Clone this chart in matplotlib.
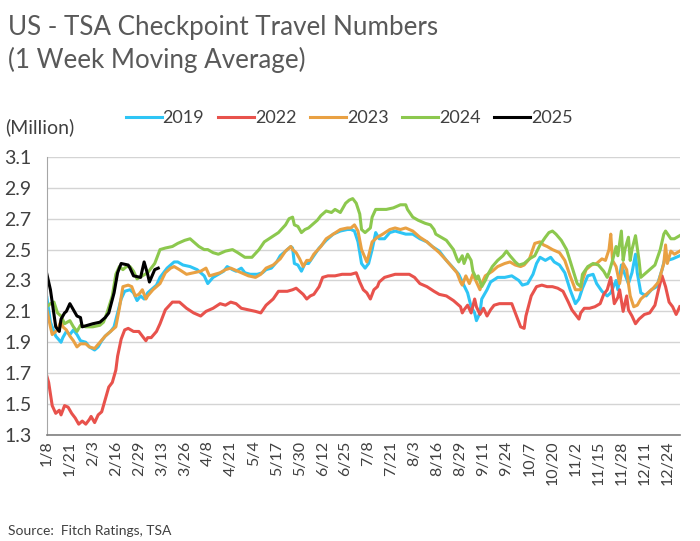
import matplotlib
matplotlib.use('Agg')
import matplotlib.pyplot as plt

plt.rcParams['font.family'] = ['Lato', 'DejaVu Sans']

# x positions are days counted from 1/8
tick_labels = ['1/8', '1/21', '2/3', '2/16', '2/29', '3/13', '3/26', '4/8', '4/21', '5/4',
               '5/17', '5/30', '6/12', '6/25', '7/8', '7/21', '8/3', '8/16', '8/29', '9/11',
               '9/24', '10/7', '10/20', '11/2', '11/15', '11/28', '12/11', '12/24']

days_2019 = [0, 2, 5, 8, 9, 11, 13, 15, 17, 19, 22, 24, 27, 29, 31, 33, 36, 38, 40, 42, 44, 47, 49,
             51, 53, 55, 57, 59, 62, 64, 68, 72, 74, 77, 81, 85, 89, 91, 94, 97, 100, 102, 105, 107,
             110, 112, 115, 119, 122, 124, 127, 130, 132, 135, 138, 139, 140, 142, 144, 146, 148,
             151, 154, 158, 162, 166, 170, 172, 174, 176, 178, 180, 182, 184, 186, 188, 191, 194,
             197, 200, 203, 207, 211, 215, 218, 222, 226, 230, 233, 235, 238, 240, 242, 243, 245,
             246, 249, 251, 255, 259, 263, 267, 269, 272, 275, 277, 279, 282, 285, 287, 290, 293,
             296, 299, 301, 303, 306, 309, 311, 314, 317, 319, 322, 323, 325, 327, 329, 331, 333,
             334, 336, 339, 342, 345, 348, 350, 351, 354, 358]
vals_2019 = [2.19, 2.03, 1.94, 1.90, 1.93, 1.97, 1.95, 1.98, 1.95, 1.91, 1.90, 1.87, 1.85, 1.87,
             1.91, 1.94, 1.97, 2.00, 2.09, 2.18, 2.23, 2.24, 2.22, 2.17, 2.20, 2.18, 2.22, 2.24,
             2.27, 2.32, 2.38, 2.42, 2.42, 2.40, 2.39, 2.37, 2.33, 2.28, 2.32, 2.34, 2.36, 2.39,
             2.37, 2.36, 2.38, 2.35, 2.34, 2.34, 2.35, 2.37, 2.38, 2.42, 2.46, 2.49, 2.52, 2.51,
             2.41, 2.40, 2.36, 2.41, 2.41, 2.46, 2.51, 2.56, 2.60, 2.62, 2.63, 2.63, 2.62, 2.55,
             2.41, 2.38, 2.41, 2.50, 2.61, 2.57, 2.57, 2.61, 2.62, 2.61, 2.60, 2.60, 2.57, 2.55,
             2.52, 2.49, 2.43, 2.38, 2.34, 2.29, 2.22, 2.13, 2.09, 2.04, 2.09, 2.18, 2.24, 2.29,
             2.32, 2.32, 2.33, 2.30, 2.27, 2.28, 2.34, 2.41, 2.45, 2.43, 2.45, 2.42, 2.40, 2.35,
             2.24, 2.15, 2.18, 2.25, 2.33, 2.34, 2.28, 2.23, 2.20, 2.22, 2.30, 2.24, 2.40, 2.34,
             2.28, 2.35, 2.47, 2.35, 2.22, 2.20, 2.24, 2.26, 2.37, 2.46, 2.43, 2.44, 2.46]

days_2022 = [0, 1, 3, 5, 7, 8, 10, 12, 14, 16, 18, 20, 22, 24, 25, 27, 29, 31, 33, 35, 37, 39, 40,
             42, 44, 46, 49, 52, 54, 56, 57, 59, 62, 64, 67, 71, 75, 79, 83, 87, 90, 94, 98, 101,
             104, 107, 110, 114, 118, 121, 124, 128, 131, 134, 136, 139, 141, 143, 145, 147, 149,
             151, 154, 156, 159, 163, 167, 170, 172, 175, 177, 179, 181, 183, 185, 187, 188, 191,
             194, 197, 201, 205, 208, 211, 215, 219, 222, 226, 230, 232, 234, 235, 236, 238, 240,
             242, 243, 245, 247, 249, 251, 253, 256, 260, 263, 265, 267, 268, 270, 271, 274, 277,
             280, 283, 286, 289, 292, 295, 297, 299, 301, 302, 304, 307, 310, 313, 315, 317, 319,
             321, 323, 324, 326, 328, 329, 331, 333, 335, 338, 341, 344, 346, 348, 350, 352, 354,
             356, 358]
vals_2022 = [1.68, 1.64, 1.49, 1.44, 1.46, 1.43, 1.49, 1.48, 1.44, 1.41, 1.37, 1.39, 1.37, 1.40,
             1.42, 1.38, 1.43, 1.45, 1.53, 1.61, 1.64, 1.72, 1.81, 1.92, 1.98, 1.99, 1.97, 1.97,
             1.94, 1.91, 1.93, 1.93, 1.97, 2.02, 2.11, 2.16, 2.16, 2.12, 2.09, 2.07, 2.10, 2.12,
             2.15, 2.14, 2.16, 2.15, 2.12, 2.11, 2.10, 2.09, 2.14, 2.18, 2.23, 2.23, 2.23, 2.24,
             2.25, 2.23, 2.21, 2.18, 2.20, 2.21, 2.26, 2.32, 2.33, 2.33, 2.34, 2.34, 2.34, 2.35,
             2.29, 2.24, 2.22, 2.18, 2.24, 2.26, 2.29, 2.32, 2.33, 2.34, 2.34, 2.34, 2.32, 2.28,
             2.26, 2.23, 2.21, 2.20, 2.17, 2.15, 2.13, 2.09, 2.11, 2.14, 2.09, 2.18, 2.13, 2.08,
             2.12, 2.07, 2.11, 2.14, 2.15, 2.15, 2.15, 2.09, 2.03, 2.00, 1.99, 2.07, 2.20, 2.26,
             2.27, 2.26, 2.26, 2.25, 2.23, 2.16, 2.11, 2.08, 2.05, 2.09, 2.12, 2.12, 2.13, 2.15,
             2.21, 2.24, 2.32, 2.15, 2.19, 2.24, 2.10, 2.20, 2.11, 2.07, 2.02, 2.05, 2.08, 2.09,
             2.14, 2.24, 2.33, 2.26, 2.16, 2.13, 2.08, 2.13]

days_2023 = [0, 2, 3, 6, 8, 9, 11, 13, 15, 17, 19, 22, 24, 27, 30, 33, 36, 39, 41, 43, 46, 48, 50,
             52, 54, 56, 57, 60, 64, 67, 70, 72, 75, 79, 83, 87, 90, 92, 95, 98, 101, 104, 106, 110,
             114, 118, 121, 124, 128, 132, 135, 138, 139, 141, 143, 145, 147, 149, 151, 155, 158,
             162, 166, 170, 172, 174, 176, 178, 181, 182, 184, 187, 190, 194, 197, 200, 203, 207,
             211, 215, 218, 222, 226, 229, 232, 234, 235, 237, 239, 241, 243, 245, 246, 248, 252,
             255, 259, 262, 265, 268, 270, 273, 276, 279, 281, 283, 286, 290, 293, 296, 299, 302,
             303, 305, 308, 311, 314, 316, 318, 319, 320, 322, 324, 326, 328, 329, 330, 332, 334,
             336, 339, 343, 346, 349, 350, 351, 353, 355, 358]
vals_2023 = [2.11, 2.00, 1.95, 1.98, 2.04, 2.00, 1.98, 1.94, 1.91, 1.87, 1.89, 1.89, 1.87, 1.86,
             1.90, 1.94, 1.97, 2.00, 2.12, 2.26, 2.27, 2.26, 2.20, 2.21, 2.24, 2.18, 2.20, 2.24,
             2.28, 2.35, 2.38, 2.39, 2.37, 2.34, 2.35, 2.36, 2.38, 2.33, 2.34, 2.35, 2.37, 2.38,
             2.37, 2.35, 2.33, 2.32, 2.34, 2.38, 2.40, 2.44, 2.49, 2.52, 2.50, 2.48, 2.44, 2.39,
             2.43, 2.43, 2.47, 2.52, 2.57, 2.60, 2.63, 2.64, 2.64, 2.66, 2.62, 2.50, 2.42, 2.46,
             2.55, 2.58, 2.60, 2.63, 2.64, 2.63, 2.64, 2.62, 2.58, 2.55, 2.52, 2.48, 2.43, 2.39,
             2.35, 2.29, 2.27, 2.33, 2.28, 2.34, 2.29, 2.24, 2.28, 2.33, 2.36, 2.39, 2.41, 2.42,
             2.40, 2.39, 2.40, 2.44, 2.54, 2.55, 2.53, 2.52, 2.50, 2.48, 2.43, 2.33, 2.24, 2.24,
             2.30, 2.37, 2.40, 2.41, 2.44, 2.43, 2.50, 2.60, 2.43, 2.39, 2.28, 2.41, 2.37, 2.28,
             2.20, 2.13, 2.14, 2.18, 2.21, 2.25, 2.29, 2.41, 2.53, 2.41, 2.49, 2.47, 2.49]

days_2024 = [0, 2, 4, 6, 8, 10, 13, 15, 17, 19, 22, 26, 30, 32, 34, 37, 39, 41, 43, 45, 47, 49, 51,
             54, 57, 61, 64, 67, 71, 74, 78, 81, 83, 86, 89, 91, 94, 97, 101, 105, 108, 112, 116,
             120, 123, 127, 131, 135, 137, 139, 140, 142, 144, 146, 148, 150, 153, 155, 158, 161,
             163, 166, 169, 171, 173, 175, 177, 178, 180, 182, 183, 184, 186, 188, 192, 196, 200,
             203, 204, 207, 210, 214, 217, 219, 220, 223, 226, 228, 230, 232, 233, 235, 236, 238,
             240, 241, 243, 244, 246, 248, 250, 252, 255, 258, 260, 262, 265, 267, 270, 273, 276,
             279, 282, 284, 286, 288, 291, 294, 297, 300, 302, 303, 306, 309, 312, 315, 317, 318,
             320, 322, 323, 325, 326, 327, 329, 330, 331, 333, 335, 336, 338, 341, 344, 347, 349,
             350, 353, 355, 358]
vals_2024 = [2.13, 2.15, 2.16, 2.09, 2.07, 2.02, 2.04, 2.00, 1.97, 2.01, 2.00, 2.00, 2.01, 2.03,
             2.09, 2.20, 2.34, 2.39, 2.37, 2.39, 2.39, 2.36, 2.31, 2.33, 2.35, 2.41, 2.50, 2.51,
             2.52, 2.54, 2.56, 2.57, 2.55, 2.52, 2.50, 2.50, 2.48, 2.47, 2.49, 2.50, 2.48, 2.45,
             2.45, 2.50, 2.55, 2.58, 2.61, 2.66, 2.70, 2.71, 2.66, 2.65, 2.61, 2.63, 2.64, 2.66,
             2.69, 2.72, 2.75, 2.74, 2.76, 2.74, 2.80, 2.82, 2.83, 2.80, 2.73, 2.63, 2.61, 2.63,
             2.64, 2.71, 2.76, 2.76, 2.76, 2.77, 2.79, 2.79, 2.76, 2.71, 2.69, 2.67, 2.66, 2.63,
             2.60, 2.58, 2.56, 2.53, 2.50, 2.44, 2.42, 2.46, 2.41, 2.47, 2.43, 2.36, 2.31, 2.33,
             2.26, 2.30, 2.35, 2.39, 2.43, 2.46, 2.49, 2.46, 2.42, 2.40, 2.41, 2.44, 2.46, 2.53,
             2.58, 2.61, 2.62, 2.60, 2.56, 2.50, 2.39, 2.28, 2.26, 2.34, 2.39, 2.41, 2.40, 2.36,
             2.32, 2.35, 2.43, 2.52, 2.46, 2.62, 2.43, 2.50, 2.58, 2.43, 2.50, 2.59, 2.43, 2.32,
             2.34, 2.37, 2.40, 2.50, 2.60, 2.62, 2.57, 2.57, 2.59]

days_2025 = [0, 2, 5, 7, 8, 10, 11, 13, 15, 17, 19, 20, 23, 26, 30, 33, 35, 38, 40, 42, 46, 47, 49,
             53, 55, 57, 58, 61, 63]
vals_2025 = [2.34, 2.24, 2.00, 1.97, 2.05, 2.09, 2.10, 2.15, 2.11, 2.07, 2.06, 2.00, 2.01, 2.02,
             2.03, 2.06, 2.09, 2.22, 2.35, 2.41, 2.40, 2.38, 2.33, 2.32, 2.42, 2.34, 2.29, 2.37, 2.38]

series = [
    ('2019', days_2019, vals_2019, '#2ec5f5'),
    ('2022', days_2022, vals_2022, '#e8524c'),
    ('2023', days_2023, vals_2023, '#e9a143'),
    ('2024', days_2024, vals_2024, '#8cc84e'),
    ('2025', days_2025, vals_2025, '#000000'),
]

fig = plt.figure(figsize=(7, 5.41), dpi=100)
ax = fig.add_axes([0.067, 0.196, 0.904, 0.514])

for name, d, v, c in series:
    ax.plot(d, v, color=c, lw=2.2, label=name, solid_joinstyle='round')

ax.set_xlim(0, 358)
ax.set_ylim(1.3, 3.1)
ax.set_yticks([1.3 + 0.2 * i for i in range(10)])
ax.set_yticklabels(['%.1f' % (1.3 + 0.2 * i) for i in range(10)], fontsize=14, color='#404040')
ax.set_xticks([13 * i for i in range(len(tick_labels))])
ax.set_xticklabels(tick_labels, rotation=90, fontsize=11.5, color='#404040')
ax.tick_params(axis='y', length=0, pad=11)
ax.tick_params(axis='x', length=0, pad=4)
ax.grid(axis='y', color='#d4d4d4', lw=1)
ax.set_axisbelow(True)
for s in ['top', 'right']:
    ax.spines[s].set_visible(False)
ax.spines['left'].set_color('#a6a6a6')
ax.spines['bottom'].set_color('#7f7f7f')
ax.spines['bottom'].set_linewidth(1.2)

fig.text(0.011, 0.935, 'US - TSA Checkpoint Travel Numbers', fontsize=18.7, color='#595959')
fig.text(0.011, 0.875, '(1 Week Moving Average)', fontsize=18.7, color='#595959')
fig.text(0.008, 0.753, '(Million)', fontsize=14, color='#404040')
fig.text(0.011, 0.012, 'Source:  Fitch Ratings, TSA', fontsize=10, color='#404040')

fig.legend(loc='center', bbox_to_anchor=(0.499, 0.781), ncol=5, frameon=False,
           fontsize=13, handlelength=2.0, handletextpad=0.05, columnspacing=0.75,
           labelcolor='#404040')

fig.savefig('out.png', dpi=100)
